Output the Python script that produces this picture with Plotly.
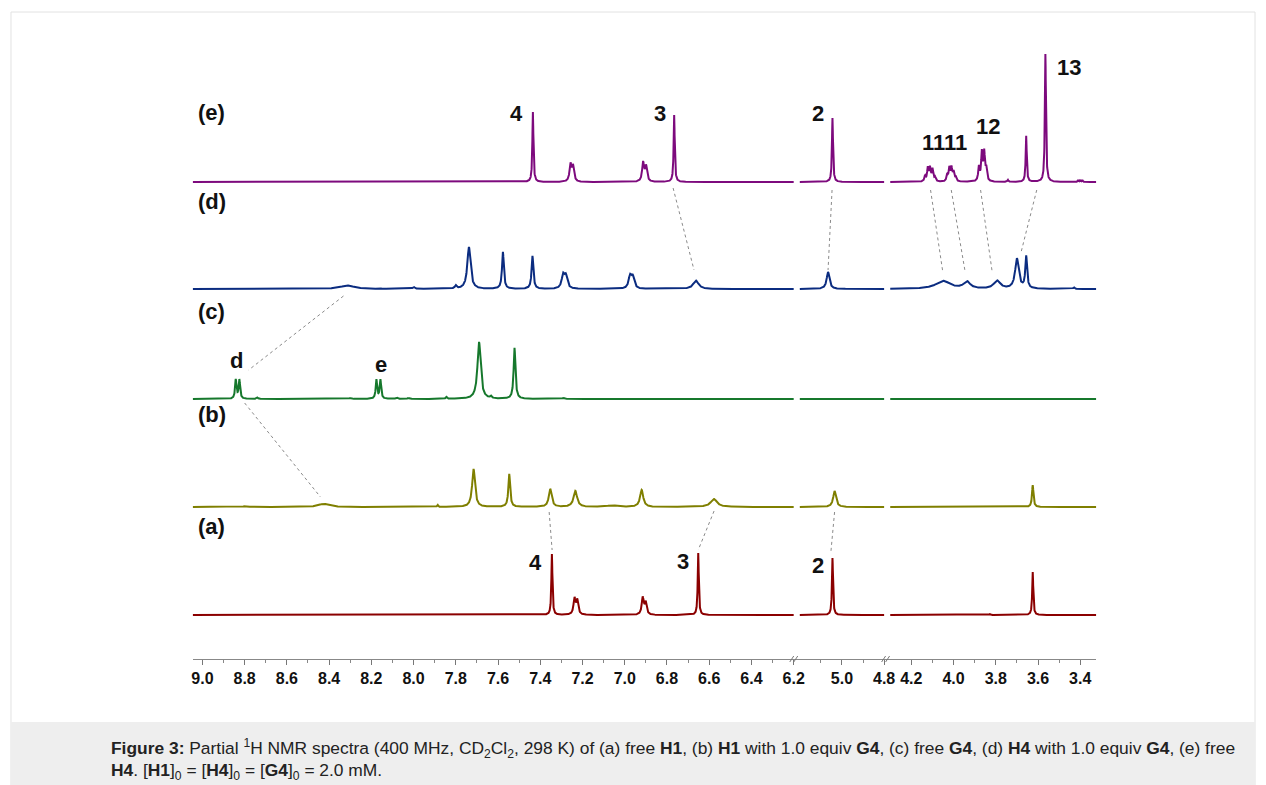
import numpy as np
import plotly.graph_objects as go

W, H = 1266, 785          # design grid (reference pixels)
FIG_W = 1275              # rendered width (compensates horizontal squeeze of the capture)

# ---------------- data ----------------
panel_labels = ["(a)", "(b)", "(c)", "(d)", "(e)"]
colors = ["#8b0000", "#7f7f00", "#16782c", "#0b2c80", "#7d0a7d"]
offsets = [44, 152, 260, 370, 477]          # baseline of each spectrum (y units)

# peak lists: chemical shift (ppm), height, half width (ppm)
a_ppm = [7.345, 7.238, 7.225, 6.915, 6.901, 6.652, 5.045, 3.827, 3.625]
a_hgt = [61, 16, 14, 17, 12, 62, 57, 1, 43]
a_wid = [0.003, 0.0055, 0.0055, 0.0055, 0.0055, 0.003, 0.003, 0.003, 0.003]

b_ppm = [8.80, 8.425, 7.886, 7.716, 7.547, 7.353, 7.234, 7.06, 6.92, 6.578, 5.035, 3.625]
b_hgt = [0.8, 3.2, 2, 38, 33, 18, 16, 1.5, 17, 8, 16, 22]
b_wid = [0.02, 0.03, 0.003, 0.008, 0.005, 0.008, 0.010, 0.03, 0.009, 0.018, 0.008, 0.004]

c_ppm = [8.842, 8.825, 8.74, 8.30, 8.176, 8.157, 8.08, 8.025, 7.845, 7.690, 7.634, 7.522, 7.29]
c_hgt = [19, 19, 1.5, 1, 19, 19, 1.5, 1, 2, 57, 2, 51, 1]
c_wid = [0.004, 0.004, 0.004, 0.005, 0.004, 0.004, 0.005, 0.005, 0.004, 0.009, 0.004, 0.005, 0.005]

d_ppm = [8.314, 8.16, 8.00, 7.80, 7.738, 7.577, 7.437, 7.292, 7.279, 6.975, 6.962,
         6.663, 5.066, 4.05, 3.937, 3.794, 3.700, 3.656, 3.43]
d_hgt = [3.5, 1, 2, 3, 42, 37, 33, 13, 12, 12, 11, 8.5, 17, 8, 7, 8, 30, 32, 1.5]
d_wid = [0.04, 0.005, 0.006, 0.005, 0.009, 0.005, 0.005, 0.008, 0.008, 0.008, 0.008,
         0.015, 0.008, 0.04, 0.018, 0.018, 0.010, 0.005, 0.004]

e_ppm = [7.435, 7.257, 7.245, 6.913, 6.899, 6.766, 5.045,
         4.135, 4.122, 4.112, 4.100, 4.088,
         4.030, 4.020, 4.010, 4.000, 3.990,
         3.880, 3.866, 3.855, 3.845, 3.743, 3.656, 3.565, 3.41, 3.40, 3.39]
e_hgt = [70, 17, 15, 19, 15, 67, 64,
         5, 13, 13, 12, 4,
         6, 13, 13, 9, 4,
         14, 28, 28, 12, 2, 46, 128, 2, 2, 2]
e_wid = [0.003, 0.0055, 0.0055, 0.0055, 0.0055, 0.003, 0.003,
         0.004, 0.004, 0.004, 0.004, 0.004,
         0.004, 0.004, 0.004, 0.004, 0.004,
         0.004, 0.004, 0.004, 0.004, 0.003, 0.003, 0.003, 0.002, 0.002, 0.002]

peaks = [(a_ppm, a_hgt, a_wid), (b_ppm, b_hgt, b_wid), (c_ppm, c_hgt, c_wid),
         (d_ppm, d_hgt, d_wid), (e_ppm, e_hgt, e_wid)]

# broken axis: three windows of chemical shift
seg_axis = [(9.046, 6.195), (5.224, 4.793), (4.322, 3.324)]
seg_trace = [(9.046, 6.200), (5.200, 4.800), (4.300, 3.324)]
major_ticks = [[9.0, 8.8, 8.6, 8.4, 8.2, 8.0, 7.8, 7.6, 7.4, 7.2, 7.0, 6.8, 6.6, 6.4, 6.2],
               [5.0, 4.8],
               [4.2, 4.0, 3.8, 3.6, 3.4]]
minor_ticks = [[8.9, 8.7, 8.5, 8.3, 8.1, 7.9, 7.7, 7.5, 7.3, 7.1, 6.9, 6.7, 6.5, 6.3],
               [5.1, 4.9],
               [4.1, 3.9, 3.7, 3.5]]

# peak labels: (spectrum index, text, ppm, height above baseline)
peak_labels = [
    (4, "4", 7.511, 69), (4, "3", 6.833, 69), (4, "2", 5.112, 69),
    (4, "1111", 4.043, 40), (4, "12", 3.837, 56), (4, "13", 3.451, 115),
    (2, "d", 8.840, 39), (2, "e", 8.152, 35),
    (0, "4", 7.422, 53), (0, "3", 6.724, 54), (0, "2", 5.115, 50),
]

# correlation lines: (ppm upper, y upper, ppm lower, y lower)
links = [
    (6.771, 471, 6.672, 389), (5.047, 469, 5.066, 389),
    (4.109, 469, 4.051, 387), (4.011, 469, 3.945, 387),
    (3.872, 469, 3.817, 387), (3.606, 469, 3.680, 407),
    (8.332, 363, 8.781, 289), (8.800, 256, 8.441, 162),
    (7.358, 147, 7.344, 109), (6.577, 148, 6.652, 109),
    (5.035, 147, 5.053, 106),
]

# ---------------- figure ----------------
def px(v):
    return v / W

seg_px = [(192, 795), (795, 886), (886, 1097)]
axis_names = ["x", "x2", "x3"]

fig = go.Figure()

def seg_of(ppm):
    for i, (l, r) in enumerate(seg_axis):
        if r <= ppm <= l:
            return i
    return 0

for k in range(5):
    pp, hh, ww = peaks[k]
    for s in range(3):
        lo, hi = seg_trace[s][1], seg_trace[s][0]
        x = np.arange(hi, lo - 1e-9, -0.0005)
        y = np.full_like(x, offsets[k], dtype=float)
        for p, h, w in zip(pp, hh, ww):
            y += h / (1 + ((x - p) / w) ** 2)
        fig.add_trace(go.Scatter(
            x=np.round(x, 4), y=np.round(y, 2), mode="lines",
            xaxis=axis_names[s], yaxis="y",
            line=dict(color=colors[k], width=2), hoverinfo="skip",
            showlegend=False))

for (u, yu, l, yl) in links:
    s = seg_of(u)
    fig.add_trace(go.Scatter(x=[u, l], y=[yu, yl], mode="lines",
                             xaxis=axis_names[s], yaxis="y",
                             line=dict(color="#8a8a8a", width=1, dash="dot"),
                             hoverinfo="skip", showlegend=False))

FONT = "Liberation Sans, Arial, Helvetica, sans-serif"
annotations = []
for (k, t, ppm, dy) in peak_labels:
    s = seg_of(ppm)
    annotations.append(dict(text="<b>%s</b>" % t, x=ppm, y=offsets[k] + dy,
                            xref=axis_names[s], yref="y", showarrow=False,
                            xanchor="center", yanchor="middle",
                            font=dict(family=FONT, size=22, color="#111111")))

panel_y = [526, 414, 311, 202, 113]
for k in range(5):
    annotations.append(dict(text="<b>%s</b>" % panel_labels[k], x=px(195), y=1 - panel_y[k] / H,
                            xref="paper", yref="paper", showarrow=False,
                            xanchor="left", yanchor="middle",
                            font=dict(family=FONT, size=22, color="#111111")))

cap1 = ("<b>Figure 3:</b> Partial <sup>1</sup>H NMR spectra (400 MHz, CD<sub>2</sub>Cl<sub>2</sub>, 298 K) "
        "of (a) free <b>H1</b>, (b) <b>H1</b> with 1.0 equiv <b>G4</b>, (c) free <b>G4</b>, "
        "(d) <b>H4</b> with 1.0 equiv <b>G4</b>, (e) free")
cap2 = "<b>H4</b>. [<b>H1</b>]<sub>0</sub> = [<b>H4</b>]<sub>0</sub> = [<b>G4</b>]<sub>0</sub> = 2.0 mM."
for txt, yy in [(cap1, 748), (cap2, 771)]:
    annotations.append(dict(text=txt, x=px(108), y=1 - yy / H, xref="paper", yref="paper",
                            showarrow=False, xanchor="left", yanchor="middle", align="left",
                            font=dict(family=FONT, size=17.4, color="#222222")))

shapes = [
    dict(type="rect", xref="paper", yref="paper", x0=px(10), x1=px(1256), y0=0, y1=1 - 12 / H,
         line=dict(color="#e2e2e2", width=1), fillcolor="rgba(0,0,0,0)", layer="below"),
    dict(type="rect", xref="paper", yref="paper", x0=px(10), x1=px(1256), y0=0, y1=1 - 722 / H,
         line=dict(width=0), fillcolor="#eeeeee", layer="below"),
]
for cx in (792, 884):
    for dxx in (0, 4):
        shapes.append(dict(type="line", xref="paper", yref="paper",
                           x0=px(cx + dxx - 2), x1=px(cx + dxx + 2),
                           y0=1 - 662 / H, y1=1 - 656 / H,
                           line=dict(color="#777777", width=1)))

layout = dict(
    width=FIG_W, height=H, margin=dict(l=0, r=0, t=0, b=0),
    paper_bgcolor="white", plot_bgcolor="rgba(0,0,0,0)",
    showlegend=False, hovermode=False,
    yaxis=dict(domain=[1 - 659 / H, 1 - 40 / H], range=[0, 619], visible=False, fixedrange=True),
    annotations=annotations, shapes=shapes,
)
for s in range(3):
    name = "xaxis" if s == 0 else "xaxis%d" % (s + 1)
    layout[name] = dict(
        domain=[px(seg_px[s][0]), px(seg_px[s][1])], range=list(seg_axis[s]),
        anchor="y", showgrid=False, zeroline=False, showline=True,
        linecolor="#888888", linewidth=1,
        tickmode="array", tickvals=major_ticks[s],
        ticktext=["%.1f" % v for v in major_ticks[s]],
        ticks="outside", ticklen=5, tickwidth=1, tickcolor="#777777",
        tickfont=dict(family=FONT, size=16, color="#111111", weight="bold"),
        minor=dict(tickmode="array", tickvals=minor_ticks[s], ticks="outside",
                   ticklen=3, tickwidth=1, tickcolor="#888888"),
        fixedrange=True,
    )
fig.update_layout(**layout)

fig.write_html("out.html", config={"displayModeBar": False, "staticPlot": True, "responsive": False},
               post_script="document.body.style.margin='0px';document.body.style.overflow='hidden';")
